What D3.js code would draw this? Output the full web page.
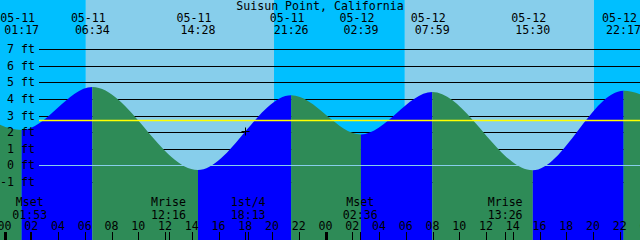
<!DOCTYPE html>
<html>
<head>
<meta charset="utf-8">
<script src="https://cdn.jsdelivr.net/npm/d3@7"></script>
<style>
  body { margin: 0; background: #fff; }
  svg text { font-family: "DejaVu Sans Mono", monospace; font-size: 11.6px; fill: #000; }
</style>
</head>
<body>
<div class="chart"></div>
<script>
// tide extremes (first and last are just off screen)
const tideTimes  = ["05-10 20:35", "05-11 01:17", "05-11 06:34", "05-11 14:28", "05-11 21:26",
                    "05-12 02:39", "05-12 07:59", "05-12 15:30", "05-12 22:17", "05-13 03:35"];
const tideLevels = [4.1, 2.13, 4.73, -0.28, 4.23, 1.86, 4.42, -0.3, 4.5, 1.7];
const tideTypes  = ["H", "L", "H", "L", "H", "L", "H", "L", "H", "L"];

// sun
const sunTimes = ["05-11 06:05", "05-11 20:09", "05-12 05:56", "05-12 20:04"];
const sunTypes = ["rise", "set", "rise", "set"];

// moon
const moonTimes  = ["05-11 01:53", "05-11 12:16", "05-11 18:13", "05-12 02:36", "05-12 13:26"];
const moonLabels = ["Mset", "Mrise", "1st/4", "Mset", "Mrise"];

const feetTicks = [-1, 0, 1, 2, 3, 4, 5, 6, 7];
const markLevel = 2.71;
const nowTime = "05-11 18:00", nowLevel = 2.05;

const width = 640, height = 240;
const parse = d3.timeParse("%m-%d %H:%M");
const fmtDate = d3.timeFormat("%m-%d"), fmtTime = d3.timeFormat("%H:%M");

const x = d3.scaleTime()
    .domain([parse("05-11 00:00"), parse("05-12 00:00")])
    .range([4.5, 325.5]);
const y = d3.scaleLinear().domain([0, 7]).range([165.3, 49.3]);

const t0 = x.invert(0), t1 = x.invert(width);

const tides = tideTimes.map((t, i) => ({t: parse(t), v: tideLevels[i], type: tideTypes[i]}));

const svg = d3.select(".chart").append("svg")
    .attr("width", width)
    .attr("height", height);

// sky: night / day
let edges = [t0].concat(sunTimes.map(parse)).concat([t1]);
for (let i = 0; i < edges.length - 1; i++) {
  const isDay = i > 0 && sunTypes[i - 1] == "rise";
  svg.append("rect")
    .attr("x", x(edges[i]))
    .attr("y", 0)
    .attr("width", x(edges[i + 1]) - x(edges[i]))
    .attr("height", height)
    .attr("fill", isDay ? "#87ceeb" : "#00bfff");
}

// foot lines behind the water
svg.selectAll(".ftline")
  .data(feetTicks.filter(d => d != 0))
  .enter().append("line")
  .attr("class", "ftline")
  .attr("x1", 39).attr("x2", width)
  .attr("y1", d => Math.round(y(d)) + 0.5)
  .attr("y2", d => Math.round(y(d)) + 0.5)
  .attr("stroke", "#000");

// water
const area = d3.area()
    .x(d => x(d.t))
    .y0(height)
    .y1(d => y(d.v))
    .curve(d3.curveMonotoneX);

svg.append("clipPath").attr("id", "water")
  .append("path").attr("d", area(tides));

const water = svg.append("g").attr("clip-path", "url(#water)");
for (let i = 0; i < tides.length - 1; i++) {
  water.append("rect")
    .attr("x", x(tides[i].t))
    .attr("y", 0)
    .attr("width", x(tides[i + 1].t) - x(tides[i].t))
    .attr("height", height)
    .attr("fill", tides[i + 1].type == "H" ? "#0000ff" : "#2e8b57");
}

// datum and mark lines
svg.append("line")
  .attr("x1", 39).attr("x2", width)
  .attr("y1", Math.round(y(0)) + 0.5).attr("y2", Math.round(y(0)) + 0.5)
  .attr("stroke", "#87ceeb");
svg.append("line")
  .attr("x1", 39).attr("x2", width)
  .attr("y1", Math.round(y(markLevel)) + 0.5).attr("y2", Math.round(y(markLevel)) + 0.5)
  .attr("stroke", "#ffff00")
  .attr("stroke-width", 1.3);

// current time cross
const nx = Math.round(x(parse(nowTime))) + 0.5, ny = Math.round(y(nowLevel)) + 0.5;
svg.append("path")
  .attr("d", `M${nx - 4},${ny}H${nx + 4}M${nx},${ny - 4}V${ny + 4}`)
  .attr("stroke", "#000");

// y labels
svg.selectAll(".ylab")
  .data(feetTicks)
  .enter().append("text")
  .attr("class", "ylab")
  .attr("x", 35)
  .attr("y", d => y(d) + 4)
  .attr("text-anchor", "end")
  .text(d => d + " ft");

// title
svg.append("text")
  .attr("x", 320).attr("y", 10)
  .attr("text-anchor", "middle")
  .text("Suisun Point, California");

// tide event labels
const shown = tides.filter(d => d.t >= t0 && d.t <= t1);
const ev = svg.selectAll(".ev").data(shown).enter().append("g").attr("class", "ev");
ev.append("text")
  .attr("x", d => x(d.t) - 4).attr("y", 22)
  .attr("text-anchor", "middle")
  .text(d => fmtDate(d.t));
ev.append("text")
  .attr("x", d => x(d.t)).attr("y", 33.5)
  .attr("text-anchor", "middle")
  .text(d => fmtTime(d.t));

// moon events
const moon = moonTimes.map((t, i) => ({t: parse(t), label: moonLabels[i]}));
const mv = svg.selectAll(".moon").data(moon).enter().append("g").attr("class", "moon");
mv.append("text")
  .attr("x", d => x(d.t)).attr("y", 206)
  .attr("text-anchor", "middle")
  .text(d => d.label);
mv.append("text")
  .attr("x", d => x(d.t)).attr("y", 218.5)
  .attr("text-anchor", "middle")
  .text(d => fmtTime(d.t));
mv.append("line")
  .attr("x1", d => Math.round(x(d.t)) + 0.5).attr("x2", d => Math.round(x(d.t)) + 0.5)
  .attr("y1", 232).attr("y2", height)
  .attr("stroke", "#000");

// hour ticks
const hours = d3.timeHour.every(2).range(parse("05-11 00:00"), parse("05-13 00:01"));
svg.selectAll(".hlab").data(hours).enter().append("text")
  .attr("class", "hlab")
  .attr("x", d => x(d)).attr("y", 229.5)
  .attr("text-anchor", "middle")
  .text(d3.timeFormat("%H"));
svg.selectAll(".htick").data(hours).enter().append("rect")
  .attr("class", "htick")
  .attr("x", d => d.getHours() == 0 ? Math.round(x(d)) - 1 : Math.round(x(d)))
  .attr("y", 232)
  .attr("width", d => d.getHours() == 0 ? 3 : 1)
  .attr("height", height - 232)
  .attr("fill", "#000");
</script>
</body>
</html>
